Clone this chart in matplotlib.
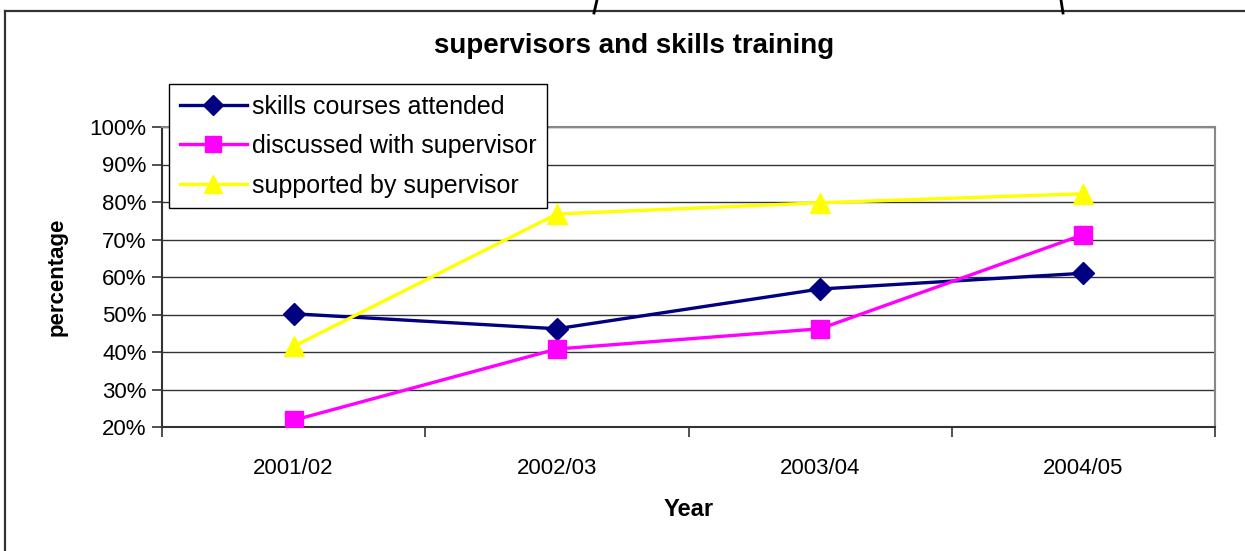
import matplotlib
matplotlib.use("Agg")
import matplotlib.pyplot as plt
from matplotlib.lines import Line2D
from matplotlib.ticker import FixedLocator, NullFormatter

plt.rcParams['font.family'] = ['Liberation Sans', 'DejaVu Sans']

years = ['2001/02', '2002/03', '2003/04', '2004/05']
skills_courses = [50.2, 46.2, 56.8, 61.0]
discussed = [21.8, 40.8, 46.2, 71.3]
supported = [41.5, 76.8, 79.8, 82.2]
yticks = [20, 30, 40, 50, 60, 70, 80, 90, 100]

W, H = 1245, 551
fig = plt.figure(figsize=(W / 100, H / 100), dpi=100)

# outer chart frame (only top and left edges visible)
fig.add_artist(Line2D([5 / W, 5 / W], [0, 1 - 11 / H], color='#333333', lw=1.6))
fig.add_artist(Line2D([5 / W, 1], [1 - 11 / H, 1 - 11 / H], color='#333333', lw=1.6))
# fragments of a shape above the chart
fig.add_artist(Line2D([594 / W, 597 / W], [1 - 13 / H, 1.0], color='black', lw=2))
fig.add_artist(Line2D([1063 / W, 1061 / W], [1 - 13 / H, 1.0], color='black', lw=2))

left, right, top, bottom = 162, 1215, 127, 427
ax = fig.add_axes([left / W, 1 - bottom / H, (right - left) / W, (bottom - top) / H])

x = range(len(years))
ax.plot(x, skills_courses, color='#000080', lw=2.4, marker='D', ms=11,
        label='skills courses attended', zorder=3)
ax.plot(x, discussed, color='#FF00FF', lw=2.4, marker='s', ms=13,
        label='discussed with supervisor', zorder=3)
ax.plot(x, supported, color='#FFFF00', lw=2.4, marker='^', ms=15,
        label='supported by supervisor', zorder=3)

ax.set_xlim(-0.5, 3.5)
ax.set_ylim(20, 100)
ax.set_yticks(yticks)
ax.set_yticklabels([f'{v}%' for v in yticks])
ax.set_xticks(list(x))
ax.set_xticklabels(years)
ax.xaxis.set_minor_locator(FixedLocator([-0.5, 0.5, 1.5, 2.5, 3.5]))
ax.xaxis.set_minor_formatter(NullFormatter())
ax.tick_params(axis='x', which='major', length=0, pad=22, labelsize=16)
ax.tick_params(axis='x', which='minor', length=7, width=1.2, color='#333333', direction='out')
ax.tick_params(axis='y', length=7, width=1.2, color='#333333', labelsize=16, pad=4)

ax.grid(axis='y', color='#333333', lw=1.0)
ax.set_axisbelow(True)
for side in ['top', 'right']:
    ax.spines[side].set_color('#888888')
    ax.spines[side].set_linewidth(1.5)
for side in ['left', 'bottom']:
    ax.spines[side].set_color('#333333')
    ax.spines[side].set_linewidth(1.5)

ax.set_ylabel('percentage', fontsize=16, fontweight='bold', labelpad=16)
ax.set_xlabel('Year', fontsize=17, fontweight='bold', labelpad=14)

fig.text(634 / W, 1 - 46 / H, 'supervisors and skills training', fontsize=20,
         fontweight='bold', ha='center', va='center')

leg = ax.legend(loc='upper left', bbox_to_anchor=((169 - left) / (right - left), (bottom - 84) / (bottom - top)),
                fontsize=18, frameon=True, fancybox=False, framealpha=1, edgecolor='black',
                borderaxespad=0, handlelength=2.7, labelspacing=0.62, handletextpad=0.2,
                borderpad=0.42, markerscale=0.9)
leg.get_frame().set_linewidth(1.0)

fig.savefig('out.png', dpi=100)
